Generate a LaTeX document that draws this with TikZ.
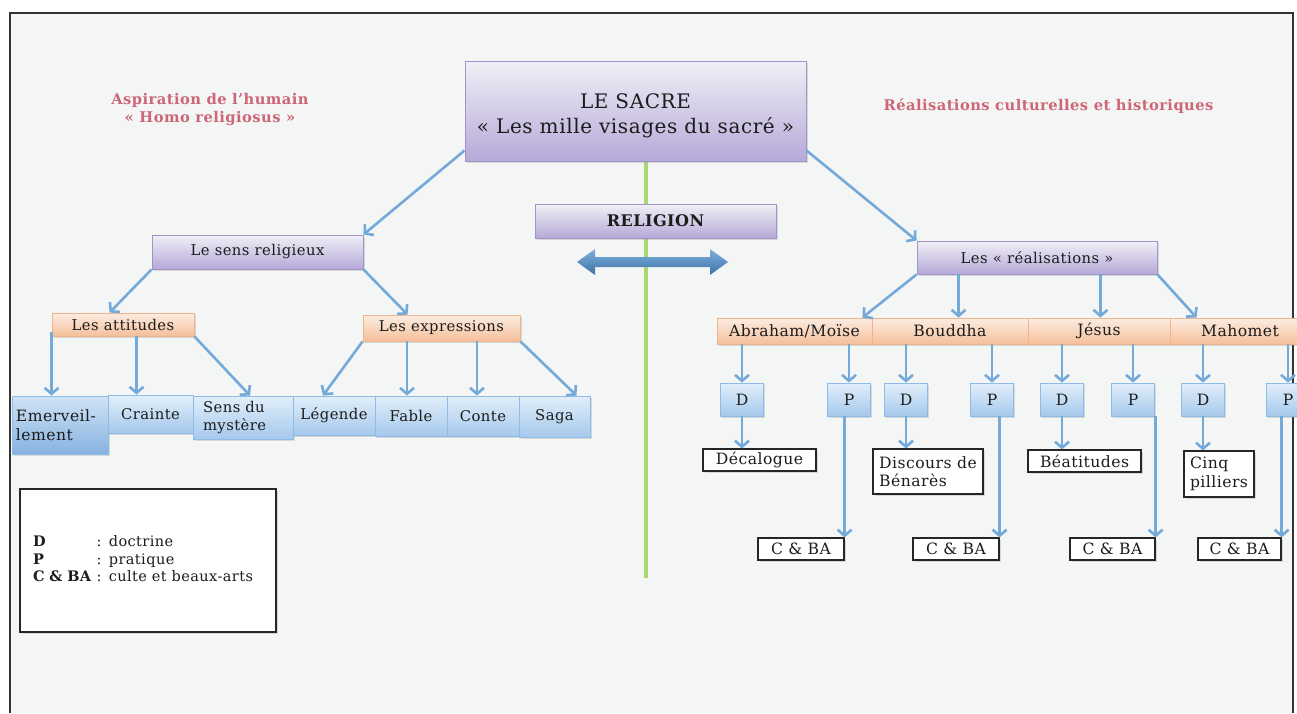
\documentclass[tikz,border=0pt]{standalone}
\usepackage{fontspec}
\setmainfont{DejaVu Serif}[LetterSpace=3]
\usetikzlibrary{arrows.meta,shadows}

\definecolor{fond}{HTML}{F4F5F5}
\definecolor{encre}{HTML}{1C1C1C}
\definecolor{violetbord}{HTML}{A094C8}
\definecolor{violethaut}{HTML}{F1EFF6}
\definecolor{violetbas}{HTML}{B5A9D8}
\definecolor{orangebord}{HTML}{EDB48E}
\definecolor{orangehaut}{HTML}{FCEDE2}
\definecolor{orangebas}{HTML}{F5BF9A}
\definecolor{bleubord}{HTML}{8EBCE6}
\definecolor{bleuhaut}{HTML}{E2EFFA}
\definecolor{bleubas}{HTML}{A5C8EC}
\definecolor{bleufonce}{HTML}{86B2E0}
\definecolor{fleche}{HTML}{74AADA}
\definecolor{flechehaut}{HTML}{7DB0DC}
\definecolor{flechebas}{HTML}{3D72A7}
\definecolor{rose}{HTML}{CD6676}
\definecolor{vert}{HTML}{A9D66E}

\tikzset{
  txt/.style={font=\fontsize{14.8}{17.5}\selectfont, text=encre},
  grand/.style={font=\fontsize{15.6}{18.5}\selectfont},
  boite/.style={txt, draw, line width=0.9pt, inner sep=2pt,
    drop shadow={shadow xshift=1.5pt, shadow yshift=-2pt, opacity=.25}},
  boiteviolette/.style={boite, draw=violetbord, top color=violethaut, bottom color=violetbas},
  boiteorange/.style={boite, draw=orangebord, top color=orangehaut, bottom color=orangebas},
  boitebleue/.style={boite, draw=bleubord, top color=bleuhaut, bottom color=bleubas},
  boiteblanche/.style={boite, grand, draw=black!85, fill=white, line width=1.2pt},
  fl/.style={draw=fleche, line width=2.6pt, -{Straight Barb[length=6pt,width=14pt]}},
  titre/.style={font=\bfseries\fontsize{14.7}{18}\selectfont, text=rose, align=center}
}

\begin{document}
\begin{tikzpicture}[x=1pt,y=-1pt]
\useasboundingbox (0,0) rectangle (1297,713);
\fill[fond] (10,13) rectangle (1293,713);
\draw[line width=1.3pt, black!80] (10,713) |- (1293,13) -- (1293,713);
\draw[vert, line width=4pt] (646,161) -- (646,578);

\node[titre] (aspiration) at (210,110) {Aspiration de l’humain\\«~Homo religiosus~»};
\node[titre] (realisations) at (1048.5,106) {Réalisations culturelles et historiques};

\node[boiteviolette, minimum width=341pt, minimum height=100pt, align=center,
  font=\fontsize{20}{25}\selectfont] (sacre) at (635.5,111) {\rule{0pt}{24pt}LE SACRE\\«~Les mille visages du sacré~»};
\node[boiteviolette, minimum width=241pt, minimum height=34pt,
  font=\bfseries\fontsize{16}{19}\selectfont] (religion) at (655.5,221) {RELIGION};
\shade[top color=flechehaut, bottom color=flechebas] (577,262) -- (595,249) -- (595,257) -- (710,257)
  -- (710,249) -- (728,262) -- (710,275) -- (710,267) -- (595,267) -- (595,275) -- cycle;

\node[boiteviolette, minimum width=211pt, minimum height=34pt] (sens) at (257.5,252) {Le sens religieux};
\node[boiteviolette, minimum width=240pt, minimum height=33pt] (real) at (1037,257.5) {Les «~réalisations~»};
\draw[fl] ([yshift=11pt]sacre.south west) -- (sens.north east);
\draw[fl] ([yshift=11pt]sacre.south east) -- (real.north west);

\node[boiteorange, minimum width=142pt, minimum height=23pt] (att) at (123,324.5) {Les attitudes};
\node[boiteorange, minimum width=157pt, minimum height=26pt] (expr) at (441.5,328) {Les expressions};
\draw[fl] (sens.south west) -- ([xshift=58pt]att.north west);
\draw[fl] (sens.south east) -- ([xshift=45pt]expr.north west);

\node[boitebleue, grand, top color=bleuhaut!70!bleubas, bottom color=bleufonce, minimum width=96pt,
  minimum height=58pt, text width=88pt, align=left] (emerv) at (60,425) {Emerveil-\\lement};
\node[boitebleue, minimum width=85pt, minimum height=38pt] (crainte) at (150.5,414) {Crainte};
\node[boitebleue, minimum width=100pt, minimum height=43pt, text width=80pt, align=left] (mystere) at (243,417.5) {Sens du\\mystère};
\node[boitebleue, minimum width=82pt, minimum height=39pt] (legende) at (334,415.5) {Légende};
\node[boitebleue, minimum width=72pt, minimum height=40pt] (fable) at (411,416) {Fable};
\node[boitebleue, minimum width=72pt, minimum height=40pt] (conte) at (483,416) {Conte};
\node[boitebleue, minimum width=71pt, minimum height=41pt] (saga) at (554.5,416.5) {Saga};

\draw[fl] ([yshift=4pt]att.south west) -- (att.south west |- emerv.north);
\draw[fl] ([xshift=85pt]att.south west) -- ([xshift=85pt]att.south west |- crainte.north);
\draw[fl] (att.south east) -- ([xshift=7pt]mystere.north);
\draw[fl] (expr.south west) -- ([xshift=-11pt]legende.north);
\draw[fl] ([xshift=-4pt]fable.north |- expr.south) -- ([xshift=-4pt]fable.north);
\draw[fl] ([xshift=-6pt]conte.north |- expr.south) -- ([xshift=-6pt]conte.north);
\draw[fl] (expr.south east) -- ([xshift=22pt]saga.north);

\node[boiteorange, grand, minimum width=155pt, minimum height=26pt] (abraham) at (794.5,331) {Abraham/Moïse};
\node[boiteorange, grand, minimum width=156pt, minimum height=26pt] (bouddha) at (950,331) {Bouddha};
\node[boiteorange, grand, minimum width=142pt, minimum height=26pt] (jesus) at (1099,331) {Jésus};
\node[boiteorange, grand, minimum width=140pt, minimum height=26pt] (mahomet) at (1240,331) {Mahomet};

\draw[fl] (real.south west) -- ([xshift=-10pt]abraham.north east);
\draw[fl] ([xshift=42pt]real.south west) -- ([xshift=42pt]real.south west |- bouddha.north);
\draw[fl] ([xshift=-57pt]real.south east) -- ([xshift=-57pt]real.south east |- jesus.north);
\draw[fl] (real.south east) -- ([xshift=27pt]mahomet.north west);

\foreach \n/\t/\x/\r in {d1/D/742/abraham, p1/P/849/abraham, d2/D/906/bouddha, p2/P/992/bouddha,
  d3/D/1062/jesus, p3/P/1133/jesus, d4/D/1203/mahomet, p4/P/1288/mahomet}
{
  \node[boitebleue, grand, minimum width=43pt, minimum height=33pt] (\n) at (\x,399.5) {\t};
  \draw[fl] (\n.north |- \r.south) -- (\n.north);
}

\node[boiteblanche, minimum width=113pt, minimum height=22pt] (deca) at (759.5,460) {Décalogue};
\node[boiteblanche, minimum width=110pt, minimum height=45pt, align=left] (benares) at (928,471.5) {Discours de\\Bénarès};
\node[boiteblanche, minimum width=113pt, minimum height=22pt] (beat) at (1084.5,461) {Béatitudes};
\node[boiteblanche, minimum width=70pt, minimum height=46pt, align=left] (cinq) at (1219,474) {Cinq\\pilliers};
\draw[fl] (d1.south) -- (d1.south |- deca.north);
\draw[fl] (d2.south) -- (d2.south |- benares.north);
\draw[fl] (d3.south) -- (d3.south |- beat.north);
\draw[fl] (d4.south) -- (d4.south |- cinq.north);

\foreach \i/\x/\w in {1/801/86, 2/956/86, 3/1112.5/85, 4/1239.5/83}
{
  \node[boiteblanche, minimum width=\w pt, minimum height=22pt] (cba\i) at (\x,549) {C \& BA};
  \draw[fl] (p\i.south -| cba\i.north east) -- (cba\i.north east);
}

\node[boiteblanche, minimum width=256pt, minimum height=143pt, text width=230pt, align=left,
  inner sep=0pt, font=\fontsize{14.5}{17.5}\selectfont] (legend) at (148,560.5)
  {\begin{tabular}{@{}l@{ }l@{}}\textbf{D} & : doctrine\\ \textbf{P} & : pratique\\
   \textbf{C \& BA} & : culte et beaux-arts\end{tabular}};
\end{tikzpicture}
\end{document}
